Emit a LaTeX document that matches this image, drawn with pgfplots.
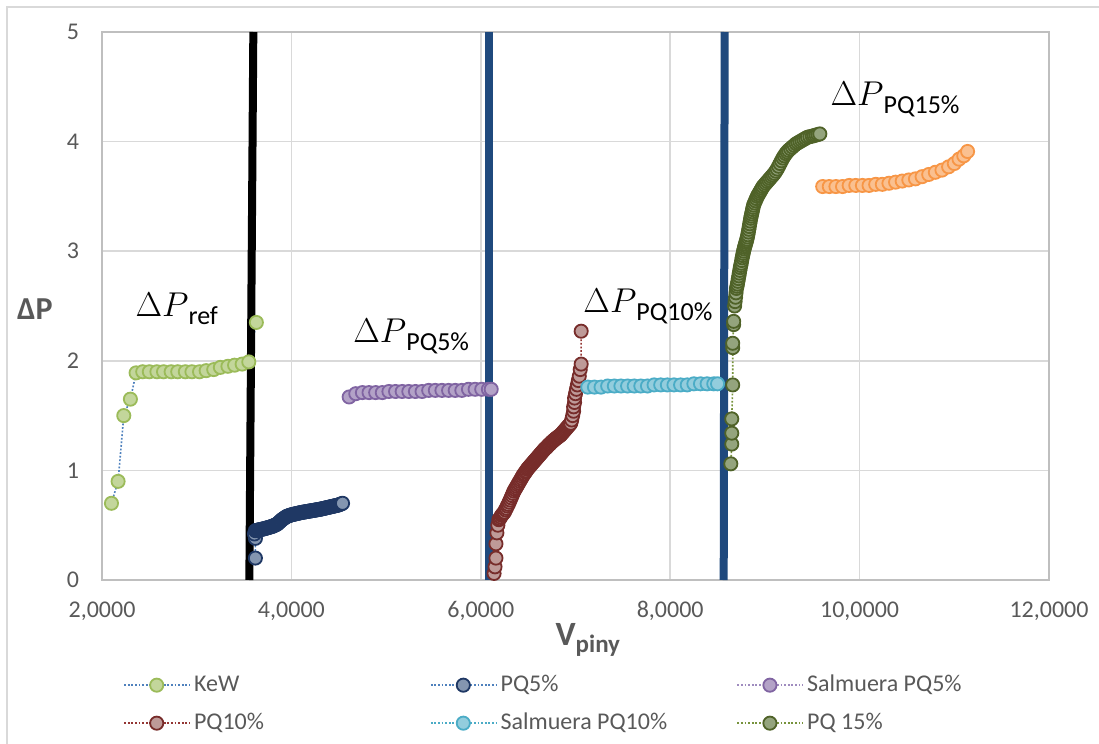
\documentclass[border=0pt]{standalone}
\usepackage{pgfplots}
\pgfplotsset{compat=1.18}
\usepackage{fontspec}
\setmainfont{Carlito}
\definecolor{tickgray}{HTML}{595959}
\definecolor{gridgray}{HTML}{D9D9D9}
\definecolor{axgray}{HTML}{BFBFBF}
\definecolor{vblue}{HTML}{1F497D}
\definecolor{kewL}{HTML}{4F81BD}\definecolor{kewE}{HTML}{9BBB59}\definecolor{kewF}{HTML}{C3D69B}
\definecolor{p5L}{HTML}{4F81BD}\definecolor{p5E}{HTML}{1F3864}\definecolor{p5F}{HTML}{8496B0}
\definecolor{s5L}{HTML}{9F8CBF}\definecolor{s5E}{HTML}{8064A2}\definecolor{s5F}{HTML}{B3A2C7}
\definecolor{p10L}{HTML}{943634}\definecolor{p10E}{HTML}{772C2A}\definecolor{p10F}{HTML}{BE9A98}
\definecolor{s10L}{HTML}{4BACC6}\definecolor{s10E}{HTML}{4BACC6}\definecolor{s10F}{HTML}{93CDDD}
\definecolor{p15L}{HTML}{77933C}\definecolor{p15E}{HTML}{4F6228}\definecolor{p15F}{HTML}{94A47D}
\definecolor{orE}{HTML}{F79646}\definecolor{orF}{HTML}{FAC090}
\pgfplotsset{
  ser/.style n args={3}{color=#1, draw=#1, line width=0.8bp, dash pattern=on 0.9bp off 0.9bp,
    mark=*, mark size=3.3bp, mark options={solid, draw=#2, fill=#3, line width=0.9bp}},
}
\newcommand{\ann}[1]{{\fontsize{16bp}{18bp}\selectfont$\Delta P$\raisebox{-4bp}{\fontsize{13bp}{15bp}\selectfont #1}}}
\begin{document}
\begin{tikzpicture}
\begin{axis}[
  scale only axis, width=473.5bp, height=274bp,
  xmin=2, xmax=12, ymin=0, ymax=5, clip=false,
  xtick={2,4,6,8,10,12},
  xticklabels={{2,0000},{4,0000},{6,0000},{8,0000},{10,0000},{12,0000}},
  ytick={0,1,2,3,4,5}, yticklabels={0,1,2,3,4,5},
  grid=major, major grid style={draw=gridgray, line width=0.75bp},
  axis line style={draw=axgray, line width=0.75bp},
  tick style={draw=none},
  xticklabel style={font=\fontsize{12bp}{14bp}\selectfont, text=tickgray, anchor=base, yshift=-18.5bp},
  yticklabel style={font=\fontsize{12bp}{14bp}\selectfont, text=tickgray, anchor=east, xshift=-8bp},
  xlabel={\textbf{V}\raisebox{-3.5bp}{\fontsize{12.5bp}{14bp}\selectfont\bfseries piny}},
  xlabel style={font=\fontsize{17bp}{19bp}\selectfont, text=tickgray, at={(axis description cs:0.513,0)}, anchor=base, yshift=-32.5bp},
  ylabel={\textbf{ΔP}},
  ylabel style={font=\fontsize{16bp}{18bp}\selectfont, text=tickgray, rotate=-90, at={(axis description cs:-0.0708,0.476)}, anchor=base},
  legend columns=3,
  legend image code/.code={\draw[mark repeat=2,mark phase=2,#1] plot coordinates {(0bp,0bp) (16.25bp,0bp) (32.5bp,0bp)};},
  legend style={at={(axis description cs:0.0222,-0.162)}, anchor=north west, draw=none, fill=none,
    inner sep=0pt, row sep=3bp, font=\fontsize{12bp}{14bp}\selectfont, text=tickgray,
    nodes={inner sep=2bp, text height=9bp, text depth=3bp}},
  legend cell align=left,
]
% KeW
\addplot[ser={kewL}{kewE}{kewF}] coordinates {
(2.10,0.70) (2.17,0.90) (2.23,1.50) (2.30,1.65) (2.36,1.89) (2.43,1.90) (2.50,1.90) (2.58,1.90)
(2.65,1.90) (2.73,1.90) (2.80,1.90) (2.88,1.90) (2.95,1.90) (3.03,1.90) (3.10,1.91) (3.18,1.92)
(3.25,1.94) (3.33,1.95) (3.40,1.96) (3.48,1.97) (3.55,1.99) (3.63,2.35)};
\addlegendentry{\makebox[116bp][l]{KeW}}
% PQ5%
\addplot[ser={p5L}{p5E}{p5F}] coordinates {
(3.62,0.20) (3.62,0.38) (3.61,0.42) (3.62,0.45) (3.63,0.452) (3.64,0.454) (3.65,0.456) (3.66,0.458)
(3.67,0.46) (3.68,0.462) (3.69,0.464) (3.70,0.465) (3.71,0.467) (3.72,0.47) (3.73,0.472) (3.74,0.475)
(3.75,0.477) (3.76,0.48) (3.77,0.482) (3.78,0.485) (3.79,0.487) (3.80,0.49) (3.81,0.494) (3.82,0.498)
(3.83,0.502) (3.84,0.506) (3.85,0.51) (3.86,0.518) (3.87,0.526) (3.88,0.534) (3.89,0.542) (3.90,0.55)
(3.91,0.556) (3.92,0.562) (3.93,0.568) (3.94,0.574) (3.95,0.58) (3.96,0.583) (3.97,0.586) (3.98,0.589)
(3.99,0.592) (4.00,0.595) (4.01,0.597) (4.02,0.599) (4.03,0.601) (4.04,0.603) (4.05,0.605) (4.06,0.607)
(4.07,0.609) (4.08,0.611) (4.09,0.613) (4.10,0.615) (4.11,0.617) (4.12,0.618) (4.13,0.62) (4.14,0.621)
(4.15,0.623) (4.16,0.624) (4.17,0.626) (4.18,0.627) (4.19,0.629) (4.20,0.63) (4.21,0.632) (4.22,0.633)
(4.23,0.635) (4.24,0.636) (4.25,0.638) (4.26,0.639) (4.27,0.641) (4.28,0.642) (4.29,0.644) (4.30,0.645)
(4.31,0.647) (4.32,0.649) (4.33,0.651) (4.34,0.653) (4.35,0.655) (4.36,0.657) (4.37,0.659) (4.38,0.661)
(4.39,0.663) (4.40,0.665) (4.41,0.667) (4.42,0.669) (4.43,0.671) (4.44,0.673) (4.45,0.675) (4.46,0.677)
(4.47,0.679) (4.48,0.681) (4.49,0.683) (4.50,0.685) (4.51,0.689) (4.52,0.692) (4.53,0.696) (4.54,0.70)};
\addlegendentry{\makebox[116bp][l]{PQ5\%}}
% Salmuera PQ5%
\addplot[ser={s5L}{s5E}{s5F}] coordinates {
(4.61,1.67) (4.68,1.70) (4.75,1.71) (4.82,1.71) (4.89,1.71) (4.96,1.71) (5.03,1.72) (5.10,1.72)
(5.17,1.72) (5.24,1.72) (5.31,1.72) (5.38,1.72) (5.45,1.73) (5.52,1.73) (5.59,1.73) (5.66,1.73)
(5.73,1.73) (5.80,1.73) (5.87,1.74) (5.94,1.74) (6.01,1.74) (6.08,1.74) (6.11,1.74)};
\addlegendentry{\makebox[116bp][l]{Salmuera PQ5\%}}
% PQ10%
\addplot[ser={p10L}{p10E}{p10F}] coordinates {
(6.14,0.06) (6.15,0.12) (6.16,0.20) (6.16,0.33) (6.17,0.43) (6.18,0.50) (6.19,0.55) (6.20,0.56)
(6.21,0.575) (6.22,0.59) (6.23,0.60) (6.24,0.61) (6.25,0.62) (6.26,0.64) (6.27,0.655) (6.28,0.675)
(6.29,0.69) (6.30,0.71) (6.31,0.73) (6.32,0.75) (6.33,0.77) (6.34,0.79) (6.35,0.81) (6.36,0.825)
(6.37,0.84) (6.38,0.855) (6.39,0.87) (6.40,0.885) (6.41,0.90) (6.42,0.915) (6.43,0.93) (6.44,0.945)
(6.45,0.96) (6.46,0.97) (6.47,0.985) (6.48,0.995) (6.49,1.01) (6.50,1.02) (6.51,1.03) (6.52,1.04)
(6.53,1.05) (6.54,1.06) (6.55,1.07) (6.56,1.08) (6.57,1.09) (6.58,1.10) (6.59,1.11) (6.60,1.12)
(6.61,1.13) (6.62,1.14) (6.63,1.15) (6.64,1.16) (6.65,1.17) (6.66,1.18) (6.67,1.19) (6.68,1.20)
(6.69,1.205) (6.70,1.215) (6.71,1.225) (6.72,1.235) (6.73,1.24) (6.74,1.25) (6.75,1.26) (6.76,1.265)
(6.77,1.275) (6.78,1.28) (6.79,1.29) (6.80,1.295) (6.81,1.30) (6.82,1.31) (6.83,1.315) (6.84,1.32)
(6.85,1.33) (6.86,1.34) (6.87,1.35) (6.88,1.36) (6.89,1.37) (6.90,1.38) (6.91,1.39) (6.92,1.40)
(6.93,1.41) (6.94,1.42) (6.95,1.43) (6.96,1.46) (6.97,1.50) (6.98,1.54) (6.98,1.58) (6.99,1.62)
(6.99,1.66) (7.00,1.70) (7.01,1.74) (7.02,1.78) (7.03,1.82) (7.04,1.86) (7.05,1.92) (7.06,1.97)
(7.06,2.27)};
\addlegendentry{\makebox[116bp][l]{PQ10\%}}
% Salmuera PQ10%
\addplot[ser={s10L}{s10E}{s10F}] coordinates {
(7.13,1.76) (7.20,1.76) (7.27,1.76) (7.34,1.77) (7.41,1.77) (7.48,1.77) (7.55,1.77) (7.62,1.77)
(7.69,1.77) (7.76,1.77) (7.83,1.78) (7.90,1.78) (7.97,1.78) (8.04,1.78) (8.11,1.78) (8.18,1.78)
(8.25,1.79) (8.32,1.79) (8.39,1.79) (8.46,1.79) (8.50,1.79)};
\addlegendentry{\makebox[116bp][l]{Salmuera PQ10\%}}
% PQ 15%
\addplot[ser={p15L}{p15E}{p15F}] coordinates {
(8.64,1.06) (8.65,1.24) (8.65,1.34) (8.65,1.47) (8.66,1.78) (8.66,2.12) (8.66,2.16) (8.67,2.33)
(8.67,2.36) (8.68,2.50) (8.685,2.54) (8.69,2.58) (8.695,2.62) (8.70,2.66) (8.705,2.68) (8.71,2.70)
(8.715,2.725) (8.72,2.75) (8.725,2.775) (8.73,2.80) (8.735,2.825) (8.74,2.85) (8.745,2.87) (8.75,2.89)
(8.755,2.915) (8.76,2.94) (8.765,2.96) (8.77,2.98) (8.775,3.00) (8.78,3.02) (8.785,3.035) (8.79,3.05)
(8.795,3.065) (8.80,3.08) (8.805,3.095) (8.81,3.11) (8.815,3.13) (8.82,3.15) (8.825,3.175) (8.83,3.20)
(8.835,3.225) (8.84,3.25) (8.845,3.275) (8.85,3.30) (8.855,3.32) (8.86,3.34) (8.865,3.36) (8.87,3.38)
(8.875,3.40) (8.88,3.42) (8.89,3.44) (8.90,3.46) (8.91,3.48) (8.92,3.50) (8.93,3.515) (8.94,3.53)
(8.95,3.545) (8.96,3.56) (8.97,3.575) (8.98,3.59) (8.995,3.605) (9.01,3.62) (9.025,3.635) (9.04,3.65)
(9.055,3.665) (9.07,3.68) (9.085,3.695) (9.10,3.71) (9.115,3.73) (9.13,3.75) (9.145,3.775) (9.16,3.80)
(9.175,3.825) (9.19,3.85) (9.205,3.87) (9.22,3.89) (9.235,3.905) (9.25,3.92) (9.27,3.935) (9.29,3.95)
(9.31,3.965) (9.33,3.98) (9.35,3.99) (9.37,4.00) (9.39,4.01) (9.41,4.02) (9.43,4.03) (9.45,4.04)
(9.475,4.045) (9.50,4.05) (9.52,4.055) (9.54,4.06) (9.56,4.065) (9.58,4.07)};
\addlegendentry{\makebox[116bp][l]{PQ 15\%}}
% Salmuera PQ15% (no legend entry)
\addplot[ser={orE}{orE}{orF}, forget plot] coordinates {
(9.61,3.59) (9.68,3.59) (9.75,3.59) (9.82,3.59) (9.89,3.60) (9.96,3.60) (10.03,3.60) (10.10,3.60)
(10.17,3.61) (10.24,3.61) (10.31,3.62) (10.38,3.63) (10.45,3.64) (10.52,3.65) (10.59,3.66) (10.66,3.68)
(10.73,3.70) (10.80,3.72) (10.87,3.74) (10.94,3.77) (11.00,3.80) (11.05,3.84) (11.10,3.87) (11.14,3.91)};
% vertical reference lines
\addplot[black, line width=4bp, forget plot] coordinates {(3.556,0) (3.598,5)};
\addplot[vblue, line width=4bp, forget plot] coordinates {(6.09,0) (6.09,5)};
\addplot[vblue, line width=4bp, forget plot] coordinates {(8.565,0) (8.575,5)};
% annotations
\node[anchor=base west, inner sep=0pt] at (axis cs:2.35,2.40) {\ann{ref}};
\node[anchor=base west, inner sep=0pt] at (axis cs:4.65,2.17) {\ann{PQ5\%}};
\node[anchor=base west, inner sep=0pt] at (axis cs:7.08,2.44) {\ann{PQ10\%}};
\node[anchor=base west, inner sep=0pt] at (axis cs:9.69,4.33) {\ann{PQ15\%}};
\end{axis}
\draw[gridgray, line width=1bp] (-47.5bp,-82bp) -- (-47.5bp,286.5bp) -- (498.5bp,286.5bp);
\pgfresetboundingbox
\path[use as bounding box] (-51bp,-82bp) rectangle (498.5bp,290bp);
\end{tikzpicture}
\end{document}
